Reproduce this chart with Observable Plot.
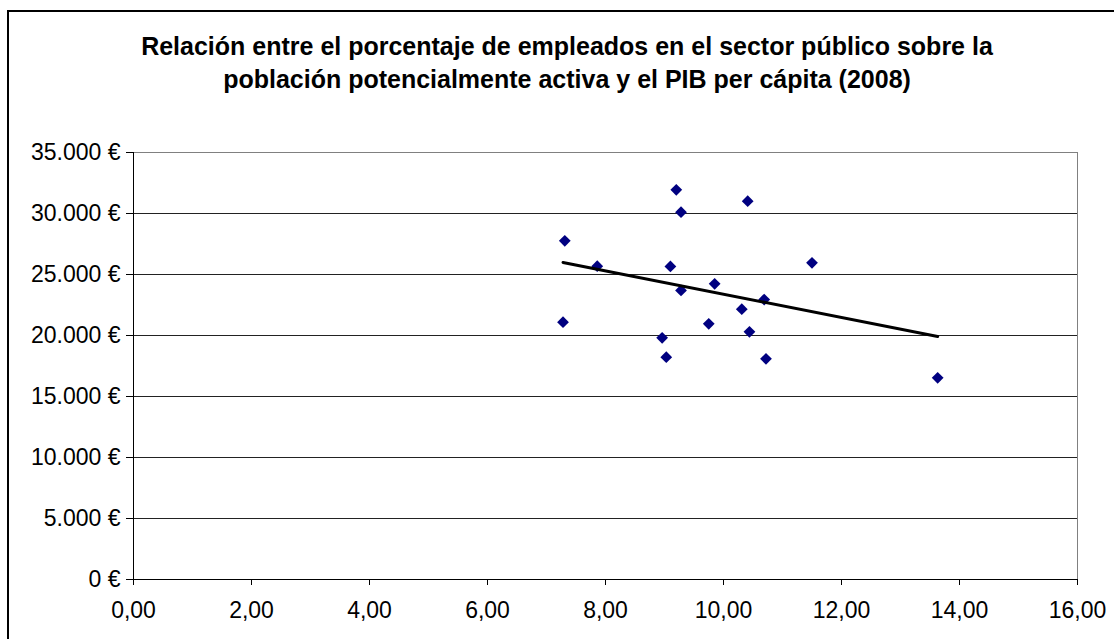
<!DOCTYPE html>
<html>
<head>
<meta charset="utf-8">
<script src="https://cdn.jsdelivr.net/npm/d3@7"></script>
<script src="https://cdn.jsdelivr.net/npm/@observablehq/plot@0.6"></script>
<style>
  html, body { margin: 0; padding: 0; width: 1114px; height: 639px; overflow: hidden; background: #fff; }
  #border { position: absolute; left: 7px; top: 10px; width: 1200px; height: 800px; border: 2px solid #000; box-sizing: border-box; pointer-events: none; }
  #title { position: absolute; left: 0; top: 30px; width: 1134px; text-align: center; font-family: "Liberation Sans", Arial, sans-serif; font-weight: bold; font-size: 25px; line-height: 33px; color: #000; }
  #chart { position: absolute; left: 0; top: 130px; }
</style>
</head>
<body>
<div id="title">Relación entre el porcentaje de empleados en el sector público sobre la<br>población potencialmente activa y el PIB per cápita (2008)</div>
<div id="chart"></div>
<div id="border"></div>
<script>
// % de empleados públicos sobre población potencialmente activa
const empleoPublico = [7.31, 7.28, 7.86, 9.20, 9.28, 9.10, 9.28, 8.96, 9.03, 9.75, 9.85, 10.41, 10.31, 10.44, 10.69, 10.72, 11.50, 13.63];
// PIB per cápita (€)
const pibPerCapita = [27760, 21090, 25680, 31940, 30110, 25660, 23690, 19810, 18220, 20960, 24240, 31010, 22160, 20300, 22950, 18090, 25960, 16530];
const yTicks = [0, 5000, 10000, 15000, 20000, 25000, 30000, 35000];
const xTicks = [0, 2, 4, 6, 8, 10, 12, 14, 16];

const data = empleoPublico.map((x, i) => ({x, y: pibPerCapita[i]}));
const fmtY = d => d3.format(",")(d).replace(/,/g, ".") + " €";
const fmtX = d => d3.format(".2f")(d).replace(".", ",");

const chart = Plot.plot({
  width: 1114,
  height: 509,
  marginTop: 22,
  marginBottom: 60,
  marginLeft: 133,
  marginRight: 37,
  style: { fontFamily: "'Liberation Sans', Arial, sans-serif", fontSize: "23px", color: "#000", background: "transparent" },
  x: { domain: [0, 16], ticks: xTicks, tickFormat: fmtX, label: null },
  y: { domain: [0, 35000], ticks: yTicks, tickFormat: fmtY, label: null },
  marks: [
    Plot.ruleY(yTicks.filter(d => d > 0 && d < 35000), { stroke: "#222", strokeWidth: 1 }),
    Plot.frame({ stroke: "#808080" }),
    Plot.ruleX([0], { stroke: "#000" }),
    Plot.ruleY([0], { stroke: "#000" }),
    Plot.axisY({ ticks: yTicks, tickFormat: fmtY, tickSize: 7, tickPadding: 6, stroke: "#000", label: null }),
    Plot.axisX({ ticks: xTicks, tickFormat: fmtX, tickSize: 6, tickPadding: 16, stroke: "#000", label: null }),
    Plot.dot(data, { x: "x", y: "y", symbol: "diamond2", r: 5.3, fill: "#000080", stroke: "none" }),
    Plot.linearRegressionY(data, { x: "x", y: "y", ci: 0, stroke: "#000", strokeWidth: 3 })
  ]
});
document.getElementById("chart").appendChild(chart);
</script>
</body>
</html>
